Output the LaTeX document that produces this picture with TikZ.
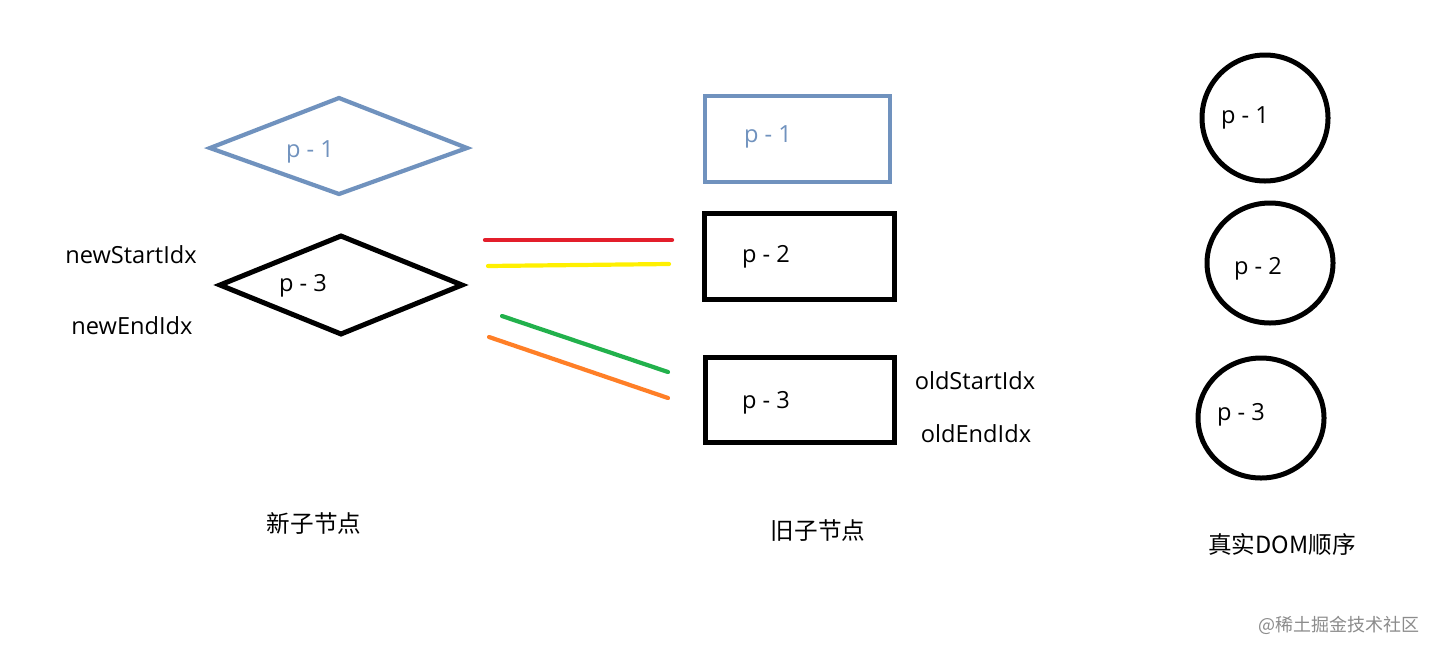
\documentclass[tikz,border=0pt]{standalone}
\usepackage{fontspec}
\setmainfont{Open Sans}
\newfontfamily\cjk{Noto Sans CJK SC}
\definecolor{bluegray}{HTML}{7092BE}
\definecolor{pred}{HTML}{E31E2B}
\definecolor{pyellow}{HTML}{FFF000}
\definecolor{pgreen}{HTML}{22B14C}
\definecolor{porange}{HTML}{FF7F27}
\tikzset{
  lbl/.style={font=\fontsize{11.8}{13}\selectfont, inner sep=0pt, text=black},
  cn/.style={font=\cjk\fontsize{11.8}{13}\selectfont, inner sep=0pt, text=black},
  shp/.style={line width=2.5pt, line join=miter},
  bshp/.style={line width=2.1pt, draw=bluegray, line join=miter},
  bar/.style={line width=2.1pt, line cap=round}
}
\begin{document}
\begin{tikzpicture}[x=0.5pt, y=-0.5pt]
\useasboundingbox (0,0) rectangle (1438,654);
\fill[white] (0,0) rectangle (1438,654);
% new children (diamonds)
\draw[bshp] (210,148) -- (339,98) -- (467,148) -- (339,194) -- cycle;
\node[lbl, text=bluegray] (t1) at (310,152) {p - 1};
\draw[shp] (220,285) -- (341,236) -- (462,285) -- (341,334) -- cycle;
\node[lbl] (t3) at (303,286) {p - 3};
\node[lbl] (nsi) at (131,255) {newStartIdx};
\node[lbl] (nei) at (132,326) {newEndIdx};
\node[cn] (newc) at (314,523) {新子节点};
% old children (rectangles)
\draw[bshp] (705,96) rectangle (890,182);
\node[lbl, text=bluegray] (r1) at (768,137) {p - 1};
\draw[shp] (704,213) rectangle (894,299);
\node[lbl] (r2) at (766,257) {p - 2};
\draw[shp] (705,357) rectangle (894,442);
\node[lbl] (r3) at (766,403) {p - 3};
\node[lbl] (osi) at (975,381) {oldStartIdx};
\node[lbl] (oei) at (976,434) {oldEndIdx};
\node[cn] (oldc) at (818,531) {旧子节点};
% coloured bars
\coordinate (ra) at (485,240); \coordinate (rb) at (672,240);
\coordinate (ya) at (488,266); \coordinate (yb) at (669,264);
\coordinate (ga) at (502,316); \coordinate (gb) at (668,372);
\coordinate (oa) at (489,337); \coordinate (ob) at (668,398);
\draw[bar, pred] (ra) -- (rb);
\draw[bar, pyellow] (ya) -- (yb);
\draw[bar, pgreen] (ga) -- (gb);
\draw[bar, porange] (oa) -- (ob);
% real DOM (circles)
\draw[shp] (1265,118) ellipse [x radius=63, y radius=63];
\node[lbl] (c1) at (1245,118) {p - 1};
\draw[shp] (1270,263) ellipse [x radius=63, y radius=60];
\node[lbl] (c2) at (1258,269) {p - 2};
\draw[shp] (1261,418) ellipse [x radius=63, y radius=60];
\node[lbl] (c3) at (1241,415) {p - 3};
\node[cn] (dom) at (1282,544) {真实DOM顺序};
% watermark
\node[font=\cjk\fontsize{9}{10}\selectfont, text=black!45, inner sep=0pt] (wm) at (1339,625) {@稀土掘金技术社区};
\end{tikzpicture}
\end{document}
